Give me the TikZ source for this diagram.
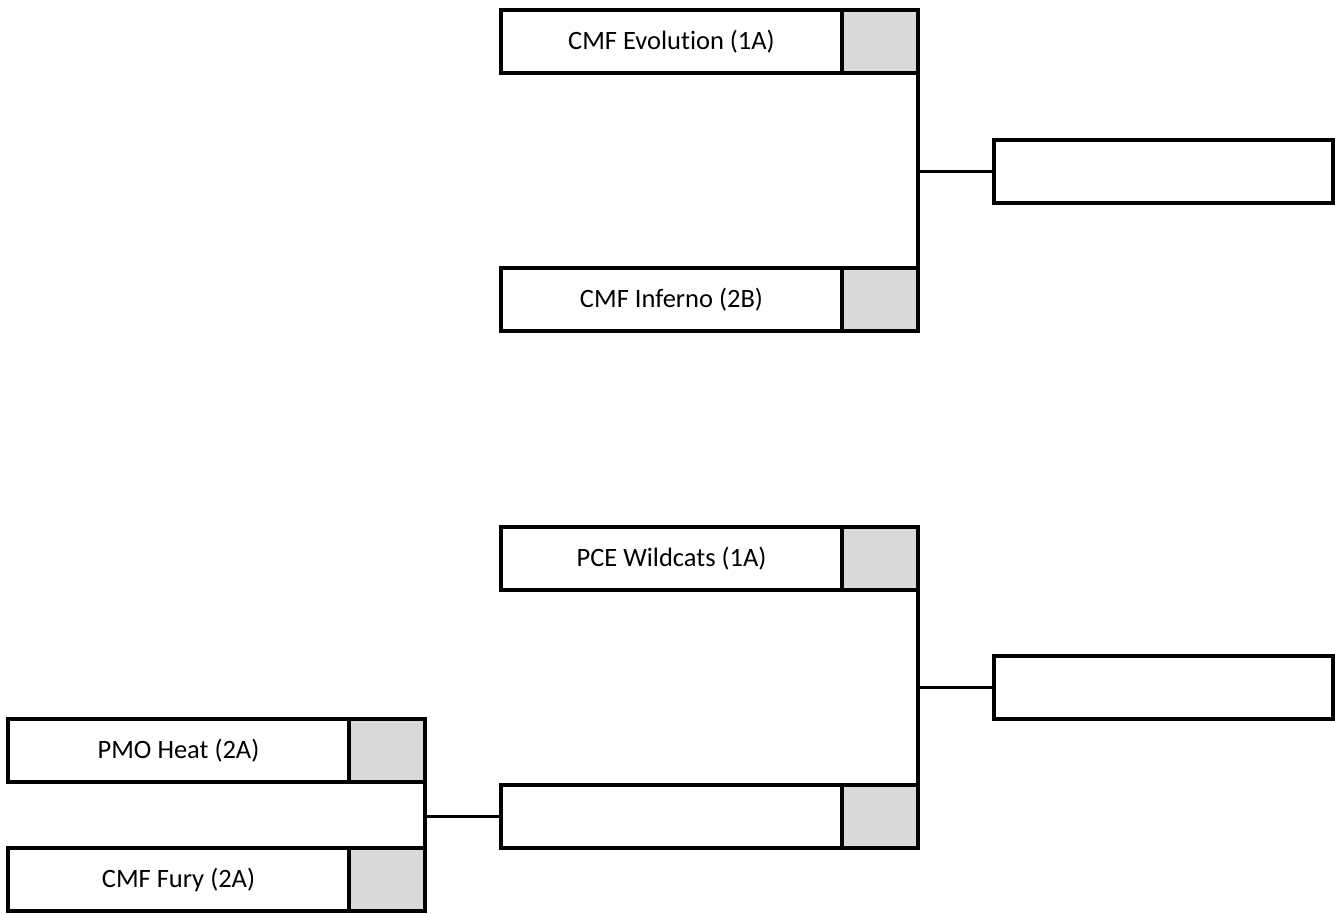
\documentclass[tikz,border=0pt]{standalone}
\usepackage{fontspec}
\setmainfont{Carlito}[Ligatures={NoCommon}]
\definecolor{cellgray}{HTML}{D9D9D9}
\begin{document}
\begin{tikzpicture}[x=1pt,y=-1pt,
  teambox/.style={draw=black,line width=3.6pt,fill=white,minimum width=341pt,minimum height=63pt,inner sep=0pt,outer sep=0pt,anchor=north west,font=\fontsize{26.5}{31}\selectfont},
  scorebox/.style={draw=black,line width=3.6pt,fill=cellgray,minimum width=76pt,minimum height=63pt,inner sep=0pt,outer sep=0pt,anchor=west},
  resultbox/.style={draw=black,line width=3.6pt,fill=white,minimum width=339pt,minimum height=63pt,inner sep=0pt,outer sep=0pt,anchor=north west},
  link/.style={draw=black,line width=3.6pt}]
\useasboundingbox (0,0) rectangle (1335,913);
% top bracket
\node[teambox] (t1) at (501,10) {CMF Evolution (1A)};
\node[scorebox] (s1) at (t1.east) {};
\node[teambox] (t2) at (501,268) {CMF Inferno (2B)};
\node[scorebox] (s2) at (t2.east) {};
\node[resultbox] (r1) at (994,140) {};
\draw[link] (s1.south east) -- (s2.north east);
\draw[link] (s1.south east |- r1.west) -- (r1.west);
% bottom bracket
\node[teambox] (t3) at (501,527) {PCE Wildcats (1A)};
\node[scorebox] (s3) at (t3.east) {};
\node[teambox] (t4) at (501,785) {};
\node[scorebox] (s4) at (t4.east) {};
\node[resultbox] (r2) at (994,656) {};
\draw[link] (s3.south east) -- (s4.north east);
\draw[link] (s3.south east |- r2.west) -- (r2.west);
% play-in
\node[teambox] (t5) at (8,719) {PMO Heat (2A)};
\node[scorebox] (s5) at (t5.east) {};
\node[teambox] (t6) at (8,848) {CMF Fury (2A)};
\node[scorebox] (s6) at (t6.east) {};
\draw[link] (s5.south east) -- (s6.north east);
\draw[link] (s5.south east |- t4.west) -- (t4.west);
\end{tikzpicture}
\end{document}
